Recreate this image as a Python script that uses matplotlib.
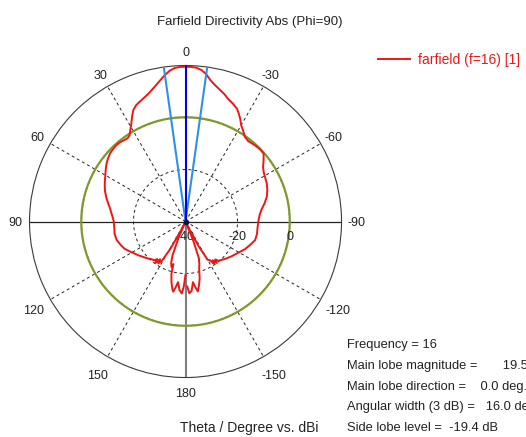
import numpy as np
import matplotlib.pyplot as plt
from matplotlib.transforms import offset_copy

plt.rcParams['font.family'] = ['Liberation Sans', 'DejaVu Sans']

# farfield cut, theta in degrees vs directivity in dBi
theta_deg = [-178.5, -177, -175, -173, -171.5, -170, -168, -166, -164, -162, -160, -158, -156, -154,
             -152, -150, -148, -146, -145, -143, -142, -140, -136, -132, -127, -123, -119, -115,
             -110, -105, -100, -95, -90, -85, -81, -77, -73, -69, -65, -61, -58, -55, -52, -49,
             -46, -43, -40, -38, -35, -32, -30, -28, -26, -24.5, -22, -19, -17, -14, -12, -10,
             -8, -6, -4, -2,
             0, 2, 4, 6, 8, 10, 13, 16, 18, 21, 23, 25, 27, 29, 31, 33, 35, 37, 40, 43, 46, 48,
             51, 54, 57, 60, 63, 66, 69, 73, 77, 80, 84, 87, 90, 95, 100, 105, 110, 114, 118,
             122, 126, 130, 134, 138, 141, 143, 144, 146, 147, 149, 151, 153, 155, 157, 159, 161,
             163, 164, 165, 167, 169, 170, 171.5, 173, 175, 177, 178.5, 180]
gain_dbi = [-15.0, -12.4, -13.2, -16.5, -14.5, -12.7, -15.0, -17.5, -21.0, -22.8, -25.0, -32.0, -39.5, -37.0,
            -29.0, -23.0, -22.5, -20.4, -21.8, -20.0, -21.5, -20.3, -19.6, -18.8, -17.8, -17.0, -16.0, -14.8,
            -13.6, -12.3, -12.1, -12.2, -12.0, -11.4, -10.4, -8.8, -7.3, -6.3, -5.5, -5.0, -4.5, -3.6, -1.9, -0.2,
            -0.1, -0.3, -0.6, -0.8, -0.2, 1.6, 2.8, 4.8, 6.5, 7.7, 8.8, 10.0, 11.2, 12.7, 13.8, 15.2,
            17.2, 18.6, 19.3, 19.5,
            19.5, 19.5, 19.2, 18.3, 16.9, 15.3, 13.1, 11.3, 10.4, 9.3, 8.6, 7.4, 5.3, 3.0, 1.2, -0.5,
            -1.0, -0.8, -0.4, -0.4, -0.7, -0.9, -1.6, -2.4, -3.4, -4.4, -5.2, -6.0, -6.8, -8.1, -9.5, -10.5,
            -11.4, -12.0, -12.4, -12.5, -12.3, -12.6, -13.5, -14.3, -15.6, -16.8, -17.8, -18.8, -19.6, -20.5,
            -20.8, -21.9, -20.3, -22.5, -20.8, -22.4, -28.0, -36.0, -39.5, -33.0, -26.0, -23.0, -21.6, -23.0,
            -19.0, -16.0, -13.5, -12.6, -14.5, -16.5, -13.5, -12.3, -15.0, -19.5]

main_lobe_dir = 0.0
angular_width = 16.0
main_lobe_mag = 19.5
side_lobe_level = -19.4

r_min, r_max = -40, 20
grid_angles = [30, 60, 120, 150, -30, -60, -120, -150]
angle_ticks = [0, 30, 60, 90, 120, 150, 180, -150, -120, -90, -60, -30]
r_ticks = [-40, -20, 0]

fig = plt.figure(figsize=(5.26, 4.37), dpi=100)
ax = fig.add_axes([0.0561, 0.1361, 0.5932, 0.714], projection='polar')
ax.set_theta_zero_location('N')
ax.set_theta_direction(1)
ax.set_ylim(r_min, r_max)
ax.grid(False)
ax.set_xticks([])
ax.set_yticks([])
ax.spines['polar'].set_color('#3a3a3a')
ax.spines['polar'].set_linewidth(0.8)

circ = np.linspace(0, 2 * np.pi, 361)
for a in grid_angles:
    ax.plot([np.radians(a)] * 2, [r_min, r_max], color='#222222', lw=0.7, ls=(0, (3, 3)), zorder=1)
for rv in [-20, 0]:
    ax.plot(circ, [rv] * len(circ), color='#222222', lw=0.7, ls=(0, (3, 3)), zorder=1)

# solid axes
ax.plot([np.radians(90)] * 2, [r_min, r_max], color='#222222', lw=0.9, zorder=1)
ax.plot([np.radians(-90)] * 2, [r_min, r_max], color='#222222', lw=0.9, zorder=1)
ax.plot([np.radians(180)] * 2, [r_min, r_max], color='#808080', lw=1.5, zorder=1)

# side lobe circle
ax.plot(circ, [main_lobe_mag + side_lobe_level] * len(circ), color='#7f9a2c', lw=1.6, zorder=2)

line, = ax.plot(np.radians(theta_deg), gain_dbi, color='#f01515', lw=1.4, zorder=3,
                label='farfield (f=16) [1]')

for a in [main_lobe_dir - angular_width / 2, main_lobe_dir + angular_width / 2]:
    ax.plot([np.radians(a)] * 2, [r_min, r_max], color='#2f8fe8', lw=1.5, zorder=4)
ax.plot([np.radians(main_lobe_dir)] * 2, [r_min, r_max], color='#0000ee', lw=1.5, zorder=5)
ax.plot([0], [r_min], 'o', color='#111133', ms=3, zorder=6)

# angle labels just outside the rim (rim = 156 px)
px_per_db = 156 / (r_max - r_min)
ltrans = offset_copy(ax.transData, fig=fig, x=0, y=-1.2, units='points')
for a in angle_ticks:
    r_px = 176 if abs(a) in (120, 150) else 170.5
    ax.text(np.radians(a), r_min + r_px / px_per_db, str(a), ha='center', va='center',
            fontsize=9, color='#222222', transform=ltrans)

rtrans = offset_copy(ax.transData, fig=fig, x=0, y=-11, units='points')
for rv in r_ticks:
    ax.text(np.radians(-90), rv, str(rv), ha='center', va='center', fontsize=9,
            color='#222222', transform=rtrans, zorder=2)

fig.text(250 / 526, 1 - 22 / 437, 'Farfield Directivity Abs (Phi=90)', ha='center', va='center',
         fontsize=9.5, color='#222222')
fig.text(180 / 526, 1 - 428 / 437, 'Theta / Degree vs. dBi', ha='left', va='center',
         fontsize=10, color='#222222')

fig.legend(handles=[line], loc='center left', bbox_to_anchor=(371 / 526, 1 - 60 / 437),
           frameon=False, fontsize=10, labelcolor='linecolor', handlelength=2.3,
           handletextpad=0.55, borderpad=0)

info = ['Frequency = 16',
        'Main lobe magnitude =       %.1f dBi' % main_lobe_mag,
        'Main lobe direction =    %.1f deg.' % main_lobe_dir,
        'Angular width (3 dB) =   %.1f deg.' % angular_width,
        'Side lobe level =  %.1f dB' % side_lobe_level]
for i, s in enumerate(info):
    fig.text(347 / 526, 1 - (345 + 20.8 * i) / 437, s, ha='left', va='center',
             fontsize=9.3, color='#222222')

fig.savefig('out.png', dpi=100)
